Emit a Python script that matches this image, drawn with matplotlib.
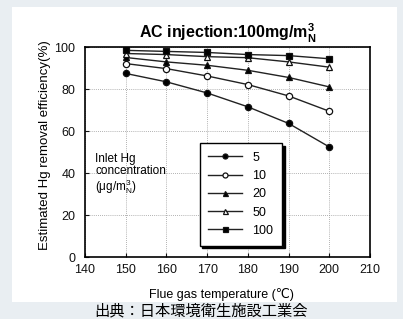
import matplotlib.pyplot as plt
from matplotlib.patches import Rectangle

temps = [150, 160, 170, 180, 190, 200]
hg5 = [87.5, 83.5, 78.2, 71.6, 63.7, 52.5]
hg10 = [92.2, 89.8, 86.3, 82.2, 76.8, 69.5]
hg20 = [95.1, 93.0, 91.4, 89.0, 85.6, 81.1]
hg50 = [97.0, 96.5, 95.5, 95.0, 93.0, 90.5]
hg100 = [98.5, 98.0, 97.5, 96.5, 96.0, 94.5]
labels = ['5', '10', '20', '50', '100']

plt.rcParams['font.family'] = ['Liberation Sans', 'DejaVu Sans']
plt.rcParams['mathtext.fontset'] = 'custom'
plt.rcParams['mathtext.rm'] = 'Liberation Sans'
plt.rcParams['mathtext.bf'] = 'Liberation Sans:bold'

fig = plt.figure(figsize=(4.03, 3.19), dpi=100)
fig.patch.set_facecolor('#e9eef2')
fig.patches.append(Rectangle((0.030, 0.053), 0.955, 0.925, transform=fig.transFigure,
                             facecolor='white', edgecolor='none', zorder=-5))

ax = fig.add_axes([0.211, 0.194, 0.707, 0.658])
ax.set_zorder(2)
styles = [('o', 'k'), ('o', 'white'), ('^', 'k'), ('^', 'white'), ('s', 'k')]
for ys, lab, (m, fc) in zip([hg5, hg10, hg20, hg50, hg100], labels, styles):
    ax.plot(temps, ys, color='#222222', lw=1.0, marker=m, ms=4.5, mfc=fc,
            mec='#111111', mew=0.9, label=lab)

ax.set_xlim(140, 210)
ax.set_ylim(0, 100)
ax.set_xticks(range(140, 211, 10))
ax.set_yticks(range(0, 101, 20))
ax.grid(True, ls=(0, (1, 1.5)), color='#999999', lw=0.6)
ax.tick_params(direction='in', labelsize=9, length=3, colors='#111111')
ax.tick_params(axis='y', pad=7)
ax.tick_params(axis='x', pad=5)
for s in ax.spines.values():
    s.set_linewidth(1.2)

ax.set_xlabel('Flue gas temperature (℃)', fontsize=9,
              family=['Liberation Sans', 'DejaVu Sans'])
ax.xaxis.set_label_coords(0.48, -0.148)
ax.set_ylabel('Estimated Hg removal efficiency(%)', fontsize=9.5)
ax.yaxis.set_label_coords(-0.118, 0.533)
ax.set_title(r'AC injection:100mg/m$^\mathbf{3}_\mathbf{N}$', fontsize=11.5,
             fontweight='bold', pad=6)

ax.text(0.035, 0.495, 'Inlet Hg\nconcentration\n(μg/m$^3_\\mathrm{N}$)', transform=ax.transAxes,
        fontsize=8.5, va='top', linespacing=1.0)

leg = ax.legend(loc='lower left', bbox_to_anchor=(0.38, 0.025), fontsize=9,
                frameon=True, fancybox=False, shadow={'color': 'black', 'alpha': 1},
                edgecolor='black', handlelength=2.7, labelspacing=0.5, borderpad=0.7,
                markerscale=0.8)
leg.get_frame().set_linewidth(1.0)

fig.text(0.5, 0.026, '出典：日本環境衛生施設工業会', ha='center', va='center', fontsize=11,
         family=['Noto Sans CJK JP', 'DejaVu Sans'])

fig.savefig('out.png', dpi=100, facecolor=fig.get_facecolor())
